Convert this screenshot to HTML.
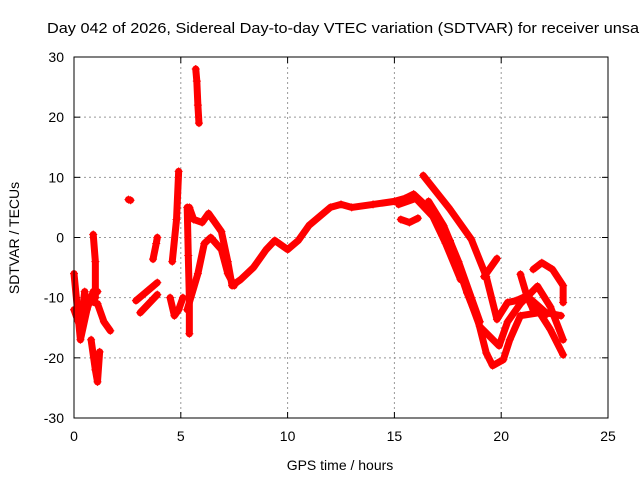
<!DOCTYPE html>
<html><head><meta charset="utf-8"><style>
body{margin:0;background:#fff;font-family:"Liberation Sans",sans-serif}
svg text{font-family:"Liberation Sans",sans-serif;font-size:14px;fill:#000}
</style></head><body>
<svg id="chart" width="640" height="480" viewBox="0 0 640 480">
<text x="47" y="33" textLength="592" lengthAdjust="spacingAndGlyphs" style="font-size:15px">Day 042 of 2026, Sidereal Day-to-day VTEC variation (SDTVAR) for receiver unsa</text>
<text x="340" y="470" text-anchor="middle">GPS time / hours</text>
<text x="0" y="0" text-anchor="middle" transform="translate(19,238) rotate(-90)">SDTVAR / TECUs</text>
<g id="grid"></g><g id="ticks"></g><g id="marks"></g>
<rect x="74" y="57" width="534" height="361" fill="none" stroke="#000" stroke-width="1"/>
</svg>
<script>
const xTicks=[0,5,10,15,20,25];
const yTicks=[-30,-20,-10,0,10,20,30];
const seriesMain=[[6.5,3],[6.9,1],[7.2,-4],[7.4,-8],[7.8,-7],[8.4,-5],[9,-2],[9.4,-0.5],[10,-2],[10.5,-0.5],[11,2],[11.5,3.5],[12,5],[12.5,5.5],[13,5],[14,5.5],[15,6],[15.5,6.5],[15.9,7.2],[16.8,4.2],[17.6,-0.8],[18.4,-9.2],[18.9,-13.6],[19.3,-19.2],[19.6,-21.3],[20.1,-20.3],[20.4,-17],[20.9,-13],[21.8,-12.5],[22.3,-15.3],[22.9,-19.5]];
const seriesB=[[16.35,10.3],[17.6,4.7],[18.6,-0.3],[19.3,-6.5],[19.8,-13.6],[20.3,-10.8],[20.7,-10.5],[21.2,-9.7],[22.1,-12.5],[22.8,-13]];
const seriesB2=[[16.6,6],[17.3,2],[18,-4],[18.6,-10],[19,-14]];
const seriesB3=[[15.2,5.5],[16,6.5],[16.8,3.5],[17.4,-1],[18.1,-7]];
const seriesC=[[17.6,-0.5],[18.4,-9],[19,-14.8],[19.9,-18],[20.3,-14],[20.9,-11],[21.7,-8.1],[22.3,-11.5],[22.9,-17]];
const seriesD=[[20.9,-6.1],[21.2,-9.7],[21.5,-12],[22.1,-12.8]];
const seriesE=[[21.5,-5.3],[21.9,-4.2],[22.4,-5.3],[22.9,-8],[22.9,-10.8]];
const seriesF=[[19.2,-6.5],[19.8,-3.5]];
const seriesG=[[15.3,3],[15.7,2.5],[16.1,3.2]];
const seriesE1=[[0,-6],[0.3,-17],[0.7,-10.5],[1.1,-11],[1.4,-14],[1.7,-15.5]];
const seriesE2=[[0,-12],[0.3,-15],[0.5,-9],[0.6,-12],[0.9,-9],[1.1,-9]];
const seriesE3=[[0.8,-17],[1,-22],[1.1,-24],[1.2,-19]];
const seriesE4=[[0.9,0.5],[1,-4],[1,-10]];
const seriesE5=[[2.55,6.3],[2.65,6.2]];
const seriesE6=[[2.9,-10.5],[3.4,-9],[3.9,-7.5]];
const seriesE6b=[[3.1,-12.5],[3.5,-11],[3.9,-9.5]];
const seriesE7=[[3.7,-3.6],[3.85,-1],[3.9,0]];
const seriesE8=[[4.5,-10],[4.7,-13],[4.9,-12],[5.1,-10]];
const seriesE9=[[4.6,-4],[4.8,3],[4.9,11]];
const seriesE10=[[5.3,5],[5.35,-3],[5.4,-10],[5.4,-16]];
const seriesE11=[[5.4,5],[5.6,3],[6,2.5],[6.3,4],[6.5,3]];
const seriesE12=[[5.3,-12],[5.8,-6],[6.1,-1],[6.4,0],[6.9,-2],[7.2,-6],[7.5,-8]];
const seriesSpike=[[5.7,28],[5.75,26],[5.8,22],[5.85,19]];
const allSeries=[seriesMain,seriesB,seriesB2,seriesB3,seriesC,seriesD,seriesE,seriesF,seriesG,seriesE1,seriesE2,seriesE3,seriesE4,seriesE5,seriesE6,seriesE6b,seriesE7,seriesE8,seriesE9,seriesE10,seriesE11,seriesE12,seriesSpike];
const X0=74,X1=608,Y0=418,Y1=57;
const sx=v=>X0+(v-0)/25*(X1-X0);
const sy=v=>Y0-(v+30)/60*(Y0-Y1);
const NS="http://www.w3.org/2000/svg";
const grid=document.getElementById('grid'),ticks=document.getElementById('ticks'),marks=document.getElementById('marks');
function mk(t,a,p){const e=document.createElementNS(NS,t);for(const k in a)e.setAttribute(k,a[k]);p.appendChild(e);return e;}
xTicks.forEach(v=>{const x=sx(v);
 if(v>0&&v<25){const g=mk('line',{x1:x,x2:x,y1:Y1,y2:Y0,stroke:'#999','stroke-dasharray':'2,3'},grid);
 
 }
 mk('line',{x1:x,x2:x,y1:Y0,y2:Y0-6,stroke:'#000'},ticks);mk('line',{x1:x,x2:x,y1:Y1,y2:Y1+6,stroke:'#000'},ticks);
 const t=mk('text',{x:x,y:Y0+23,'text-anchor':'middle'},ticks);t.textContent=v;
 
 });
yTicks.forEach(v=>{const y=sy(v);
 if(v>-30&&v<30){const g=mk('line',{x1:X0,x2:X1,y1:y,y2:y,stroke:'#999','stroke-dasharray':'2,3'},grid);
 
 }
 mk('line',{x1:X0,x2:X0+6,y1:y,y2:y,stroke:'#000'},ticks);mk('line',{x1:X1,x2:X1-6,y1:y,y2:y,stroke:'#000'},ticks);
 const t=mk('text',{x:X0-10,y:y+5,'text-anchor':'end'},ticks);t.textContent=v;
 
 });
allSeries.forEach(s=>{
 const pl=mk('polyline',{points:s.map(p=>sx(p[0])+','+sy(p[1])).join(' '),fill:'none',stroke:'#f00','stroke-width':7,'stroke-linejoin':'round','stroke-linecap':'round'},marks);
 
 
 s.forEach(p=>{const x=sx(p[0]),y=sy(p[1]);
  const m=mk('path',{d:`M${x-4},${y}h8M${x},${y-4}v8`,stroke:'#f00','stroke-width':1},marks);
  
  });
});
</script>
</body></html>
